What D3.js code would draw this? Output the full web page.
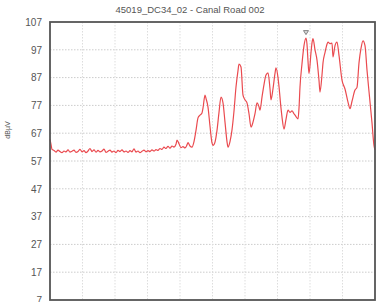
<!DOCTYPE html>
<html lang="en">
<head>
  <meta charset="UTF-8">
  <title>45019_DC34_02 - Canal Road 002</title>
  <script src="https://cdn.jsdelivr.net/npm/d3@7"></script>
  <style>
    body { margin: 0; background: #fff; }
    svg { display: block; font-family: "Liberation Sans", Arial, sans-serif; }
  </style>
</head>
<body>
  <div id="chart"></div>

  <script>
    // Trace samples: position along the sweep (0..325) and level in dBuV
    var sweepPos = [
      0, 1, 2, 4, 6, 8, 10, 12, 14, 16, 18, 20, 22, 24, 26, 28, 30, 32, 34, 36,
      38, 40, 42, 44, 46, 48, 50, 52, 54, 56, 58, 60, 62, 64, 66, 68, 70, 72, 74, 76,
      78, 80, 82, 84, 86, 88, 90, 92, 94, 96, 98, 100, 102, 104, 106, 108, 110, 112, 114, 116,
      118, 120, 122, 124, 126, 127, 129, 131, 133, 135, 137, 138, 140, 142, 144, 146, 148, 150, 152, 153,
      155, 156, 158, 160, 162, 163, 165, 167, 169, 171, 173, 175, 177, 178, 180, 182, 184, 186, 188, 189,
      191, 193, 195, 197, 199, 201, 203, 205, 207, 209, 210, 212, 214, 216, 218, 220, 221, 223, 225, 226,
      228, 229, 231, 232, 234, 236, 238, 240, 242, 244, 246, 248, 249, 250, 252, 254, 256, 257, 258, 259,
      261, 262, 263, 265, 267, 269, 270, 272, 273, 275, 277, 278, 280, 282, 283, 285, 287, 289, 292, 295,
      298, 300, 302, 305, 307, 309, 311, 313, 315, 317, 319, 322, 324, 325
    ];
    var levels = [
      64.8, 63.0, 61.2, 60.8, 60.2, 60.9, 60.4, 60.0, 60.6, 60.3, 61.0, 60.2, 60.5, 60.9, 60.1, 60.4, 61.2, 60.3, 60.7, 60.0,
      60.6, 61.5, 60.4, 61.0, 60.2, 60.8, 60.3, 60.6, 61.3, 60.1, 60.5, 60.9, 60.2, 60.6, 60.0, 60.8, 60.4, 61.0, 60.3, 60.6,
      60.1, 60.7, 60.3, 61.4, 60.2, 60.6, 60.0, 60.5, 60.9, 60.3, 60.7, 60.4, 61.0, 60.6, 61.1, 60.8, 61.5, 61.2, 62.0, 61.5,
      62.3, 61.6, 62.4, 62.0, 63.0, 64.5, 63.2, 61.8, 62.2, 61.7, 62.8, 63.6, 62.4, 62.0, 64.0, 68.0, 72.5, 73.5, 74.3, 76.0,
      80.7, 79.5, 76.4, 69.5, 63.5, 62.6, 63.8, 68.0, 74.5, 80.0, 77.9, 71.0, 64.0, 62.0, 64.0, 68.2, 75.0, 83.6, 89.5, 91.9,
      90.8, 80.7, 79.0, 77.9, 74.0, 69.2, 71.0, 74.0, 77.9, 76.5, 75.3, 80.0, 84.5, 87.9, 88.7, 83.0, 79.0, 83.0, 88.5, 90.5,
      87.0, 83.8, 76.0, 72.8, 68.5, 72.0, 75.3, 74.5, 75.0, 74.0, 73.0, 72.1, 76.0, 83.6, 92.0, 98.5, 101.2, 99.0, 93.0, 88.5,
      96.0, 99.5, 101.0, 97.0, 93.3, 86.0, 81.8, 88.0, 92.3, 96.0, 99.0, 99.8, 99.2, 99.4, 94.4, 98.5, 99.8, 95.0, 86.1, 82.9,
      78.2, 75.8, 78.5, 82.5, 83.5, 92.3, 97.5, 100.2, 98.5, 89.7, 82.0, 70.7, 62.5, 61.0
    ];
    var yTicks = [107, 97, 87, 77, 67, 57, 47, 37, 27, 17, 7];
    var markerPos = 256;
    var titleText = "45019_DC34_02 - Canal Road 002";
    var yLabel = "dBµV";

    var W = 376, H = 302;
    var margin = { top: 22, right: 1, bottom: 2, left: 50 };
    var width = W - margin.left - margin.right,
        height = H - margin.top - margin.bottom;

    var svg = d3.select("#chart").append("svg")
      .attr("width", W)
      .attr("height", H);

    // Title
    svg.append("text")
      .attr("x", 190)
      .attr("y", 13)
      .attr("text-anchor", "middle")
      .style("font-size", "9.5px")
      .style("fill", "#555")
      .text(titleText);

    // Y axis title
    svg.append("text")
      .attr("transform", "translate(10," + 130 + ") rotate(-90)")
      .attr("text-anchor", "middle")
      .style("font-size", "7px")
      .style("fill", "#555")
      .text(yLabel);

    var g = svg.append("g")
      .attr("transform", "translate(" + margin.left + "," + margin.top + ")");

    var x = d3.scaleLinear().domain([0, 325]).range([0, width]);
    var y = d3.scaleLinear().domain([7, 107]).range([height, 0]);

    // Grid lines (dotted)
    g.append("g")
      .selectAll("line")
      .data(yTicks.slice(1, -1))
      .join("line")
      .attr("x1", 0).attr("x2", width)
      .attr("y1", d => y(d)).attr("y2", d => y(d))
      .attr("stroke", "#ccc")
      .attr("stroke-dasharray", "1.5,1.5");

    g.append("g")
      .selectAll("line")
      .data(d3.range(1, 10).map(i => i * 32.5))
      .join("line")
      .attr("x1", d => x(d)).attr("x2", d => x(d))
      .attr("y1", 0).attr("y2", height)
      .attr("stroke", "#ddd")
      .attr("stroke-dasharray", "1.5,1.5");

    // Y axis tick labels
    var yAxis = d3.axisLeft(y).tickValues(yTicks).tickSize(0).tickPadding(8);
    var ya = g.append("g").call(yAxis);
    ya.select(".domain").remove();
    ya.selectAll("text")
      .style("font-size", "10px")
      .style("fill", "#555")
      .style("font-family", "'Liberation Sans', Arial, sans-serif");

    // Trace
    var pts = sweepPos.map((p, i) => [p, levels[i]]);
    var line = d3.line()
      .x(d => x(d[0]))
      .y(d => y(d[1]))
      .curve(d3.curveMonotoneX);

    g.append("path")
      .datum(pts)
      .attr("fill", "none")
      .attr("stroke", "#ea4a4f")
      .attr("stroke-width", 1.2)
      .attr("d", line);

    // Peak marker (small inverted triangle)
    var mi = sweepPos.indexOf(markerPos);
    var mx = x(markerPos), my = y(levels[mi]) - 5;
    g.append("path")
      .attr("d", "M" + (mx - 2.5) + "," + (my - 2.5) + "L" + (mx + 2.5) + "," + (my - 2.5) + "L" + mx + "," + (my + 1.5) + "Z")
      .attr("fill", "#ddd")
      .attr("stroke", "#666")
      .attr("stroke-width", 0.8);

    // Frame
    g.append("rect")
      .attr("x", 0).attr("y", 0)
      .attr("width", width).attr("height", height)
      .attr("fill", "none")
      .attr("stroke", "#555")
      .attr("stroke-width", 1.8);
  </script>
</body>
</html>
